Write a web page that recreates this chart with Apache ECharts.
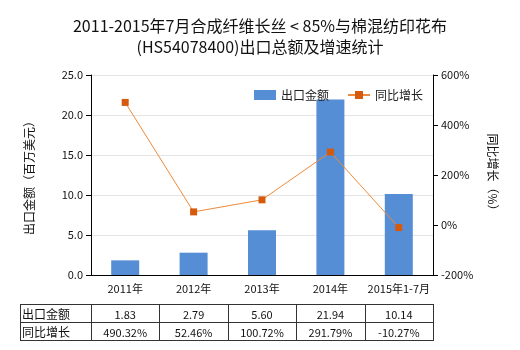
<!DOCTYPE html>
<html><head><meta charset="utf-8">
<script src="https://cdn.jsdelivr.net/npm/echarts@6/dist/echarts.min.js"></script>
<style>html,body{margin:0;padding:0;background:#fff}#c{width:520px;height:350px}</style>
</head><body><div id="c"></div>
<script>
const titleLines = ['2011-2015年7月合成纤维长丝 < 85%与棉混纺印花布', '(HS54078400)出口总额及增速统计'];
const categories = ['2011年', '2012年', '2013年', '2014年', '2015年1-7月'];
const exportValues = [1.83, 2.79, 5.60, 21.94, 10.14];
const growthValues = [490.32, 52.46, 100.72, 291.79, -10.27];
const exportLabels = ['1.83', '2.79', '5.60', '21.94', '10.14'];
const growthLabels = ['490.32%', '52.46%', '100.72%', '291.79%', '-10.27%'];
const seriesNames = ['出口金额', '同比增长'];
const leftAxisName = '出口金额（百万美元）';
const rightAxisName = '同比增长（%）';

const FONT = '"Noto Sans CJK SC", "Noto Sans", sans-serif';
const chart = echarts.init(document.getElementById('c'), null, {renderer: 'canvas'});
const option = {
  animation: false,
  backgroundColor: '#fff',
  textStyle: {fontFamily: FONT},
  title: {
    text: titleLines.join('\n'), left: 'center', top: 10,
    textStyle: {fontSize: 16, fontWeight: 'normal', color: '#111', lineHeight: 21, fontFamily: FONT}
  },
  legend: {
    top: 84, left: 249, itemWidth: 22, itemHeight: 10, itemGap: 18,
    textStyle: {fontSize: 12, color: '#222', fontFamily: FONT},
    data: [{name: seriesNames[0], icon: 'rect'}, {name: seriesNames[1]}]
  },
  grid: {left: 91, right: 87, top: 75, bottom: 75, containLabel: false},
  xAxis: {
    type: 'category', data: categories,
    axisLine: {lineStyle: {color: '#000'}},
    axisTick: {alignWithLabel: true, lineStyle: {color: '#000'}},
    axisLabel: {interval: 0, fontSize: 11, color: '#111', margin: 8, fontFamily: FONT}
  },
  yAxis: [{
    type: 'value', min: 0, max: 25, interval: 5,
    name: leftAxisName, nameLocation: 'middle', nameRotate: 90, nameGap: 56,
    nameTextStyle: {fontSize: 12, color: '#111', fontFamily: FONT},
    axisLine: {show: true, lineStyle: {color: '#000'}},
    axisTick: {show: true, lineStyle: {color: '#000'}},
    axisLabel: {fontSize: 11, color: '#111', formatter: v => v.toFixed(1), fontFamily: FONT},
    splitLine: {lineStyle: {color: '#e4e4e4'}}
  }, {
    type: 'value', min: -200, max: 600, interval: 200,
    name: rightAxisName, nameLocation: 'middle', nameRotate: -90, nameGap: 54,
    nameTextStyle: {fontSize: 12, color: '#111', fontFamily: FONT},
    axisLine: {show: true, lineStyle: {color: '#000'}},
    axisTick: {show: true, lineStyle: {color: '#000'}},
    axisLabel: {fontSize: 11, color: '#111', formatter: v => v + '%', fontFamily: FONT},
    splitLine: {show: false}
  }],
  series: [{
    name: seriesNames[0], type: 'bar', data: exportValues, barWidth: 28,
    itemStyle: {color: '#558ED5'}
  }, {
    name: seriesNames[1], type: 'line', yAxisIndex: 1, data: growthValues,
    symbol: 'rect', symbolSize: 7,
    lineStyle: {color: '#EE8A3A', width: 1},
    itemStyle: {color: '#D55A0C'}
  }]
};
chart.setOption(option);

// data table under the axis, columns aligned with category bands
const centers = categories.map((c, i) => chart.convertToPixel({xAxisIndex: 0}, i));
const band = centers.length > 1 ? centers[1] - centers[0] : 68;
const tableLeft = 20, rowTop = 304, rowH = 18;
const tableRight = centers[centers.length - 1] + band / 2;
const els = [];
const lineStyle = {stroke: '#333', lineWidth: 1};
for (let r = 0; r <= 2; r++) {
  const y = rowTop + r * rowH + 0.5;
  els.push({type: 'line', shape: {x1: tableLeft, y1: y, x2: tableRight, y2: y}, style: lineStyle, silent: true});
}
const xs = [tableLeft, ...centers.map(c => c - band / 2), tableRight];
xs.forEach(x => {
  const xx = Math.round(x) + 0.5;
  els.push({type: 'line', shape: {x1: xx, y1: rowTop, x2: xx, y2: rowTop + 2 * rowH + 1}, style: lineStyle, silent: true});
});
const rows = [[seriesNames[0], exportLabels], [seriesNames[1], growthLabels]];
rows.forEach((row, r) => {
  const cy = rowTop + r * rowH + rowH / 2 + 1;
  els.push({type: 'text', x: tableLeft + 2, y: cy, style: {text: row[0], fill: '#111', font: '12px ' + FONT, verticalAlign: 'middle', align: 'left'}, silent: true});
  row[1].forEach((t, i) => {
    els.push({type: 'text', x: centers[i], y: cy + 1, style: {text: t, fill: '#111', font: '11px ' + FONT, verticalAlign: 'middle', align: 'center'}, silent: true});
  });
});
chart.setOption({graphic: {elements: els}});
</script></body></html>
